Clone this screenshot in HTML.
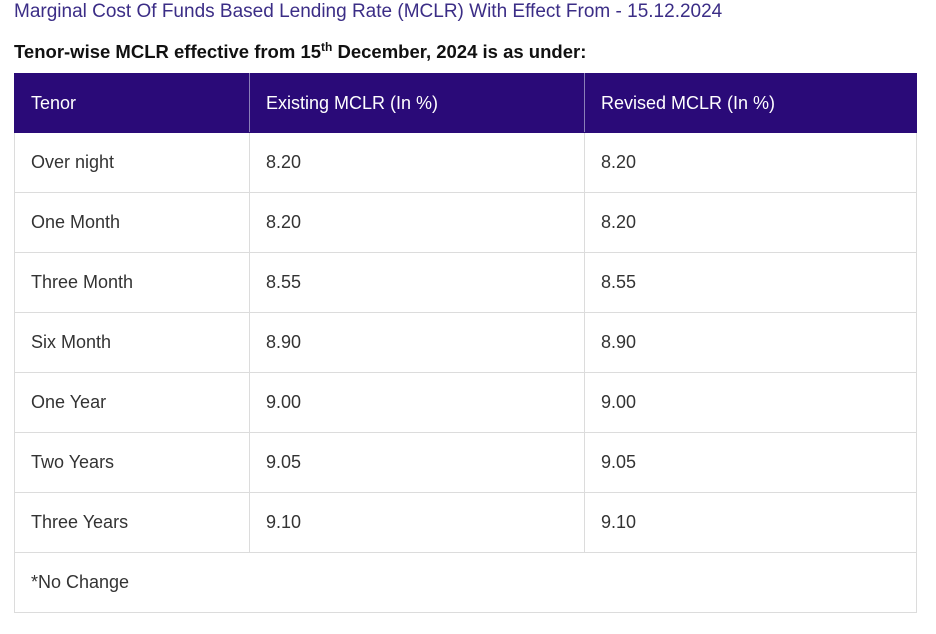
<!DOCTYPE html>
<html><head><meta charset="utf-8"><style>
body{margin:0;width:936px;height:634px;background:#fff;font-family:"Liberation Sans",sans-serif;position:relative;overflow:hidden}
.t{position:absolute;left:14px;top:1px;font-size:19px;color:#3b2d86;white-space:nowrap}
.s{position:absolute;left:14px;top:40px;font-size:18.5px;font-weight:bold;color:#111;white-space:nowrap}
.s sup{font-size:12px}
table{position:absolute;left:14px;top:73px;width:903px;border-collapse:collapse;font-size:18px;color:#333}
td,th{border:1px solid #dcdcdc;height:59px;padding:0 0 0 16px;text-align:left;font-weight:normal}
th{background:#2a0a78;color:#fff;border-color:#2a0a78;border-right:1px solid #8a7fb8;height:58px}
th:last-child{border-right-color:#2a0a78}
</style></head><body>
<div class="t">Marginal Cost Of Funds Based Lending Rate (MCLR) With Effect From - 15.12.2024</div>
<div class="s">Tenor-wise MCLR effective from 15<sup>th</sup> December, 2024 is as under:</div>
<table>
<tr><th style="width:218px">Tenor</th><th style="width:318px">Existing MCLR (In %)</th><th>Revised MCLR (In %)</th></tr>
<tr><td>Over night</td><td>8.20</td><td>8.20</td></tr>
<tr><td>One Month</td><td>8.20</td><td>8.20</td></tr>
<tr><td>Three Month</td><td>8.55</td><td>8.55</td></tr>
<tr><td>Six Month</td><td>8.90</td><td>8.90</td></tr>
<tr><td>One Year</td><td>9.00</td><td>9.00</td></tr>
<tr><td>Two Years</td><td>9.05</td><td>9.05</td></tr>
<tr><td>Three Years</td><td>9.10</td><td>9.10</td></tr>
<tr><td colspan="3">*No Change</td></tr>
</table>
</body></html>
